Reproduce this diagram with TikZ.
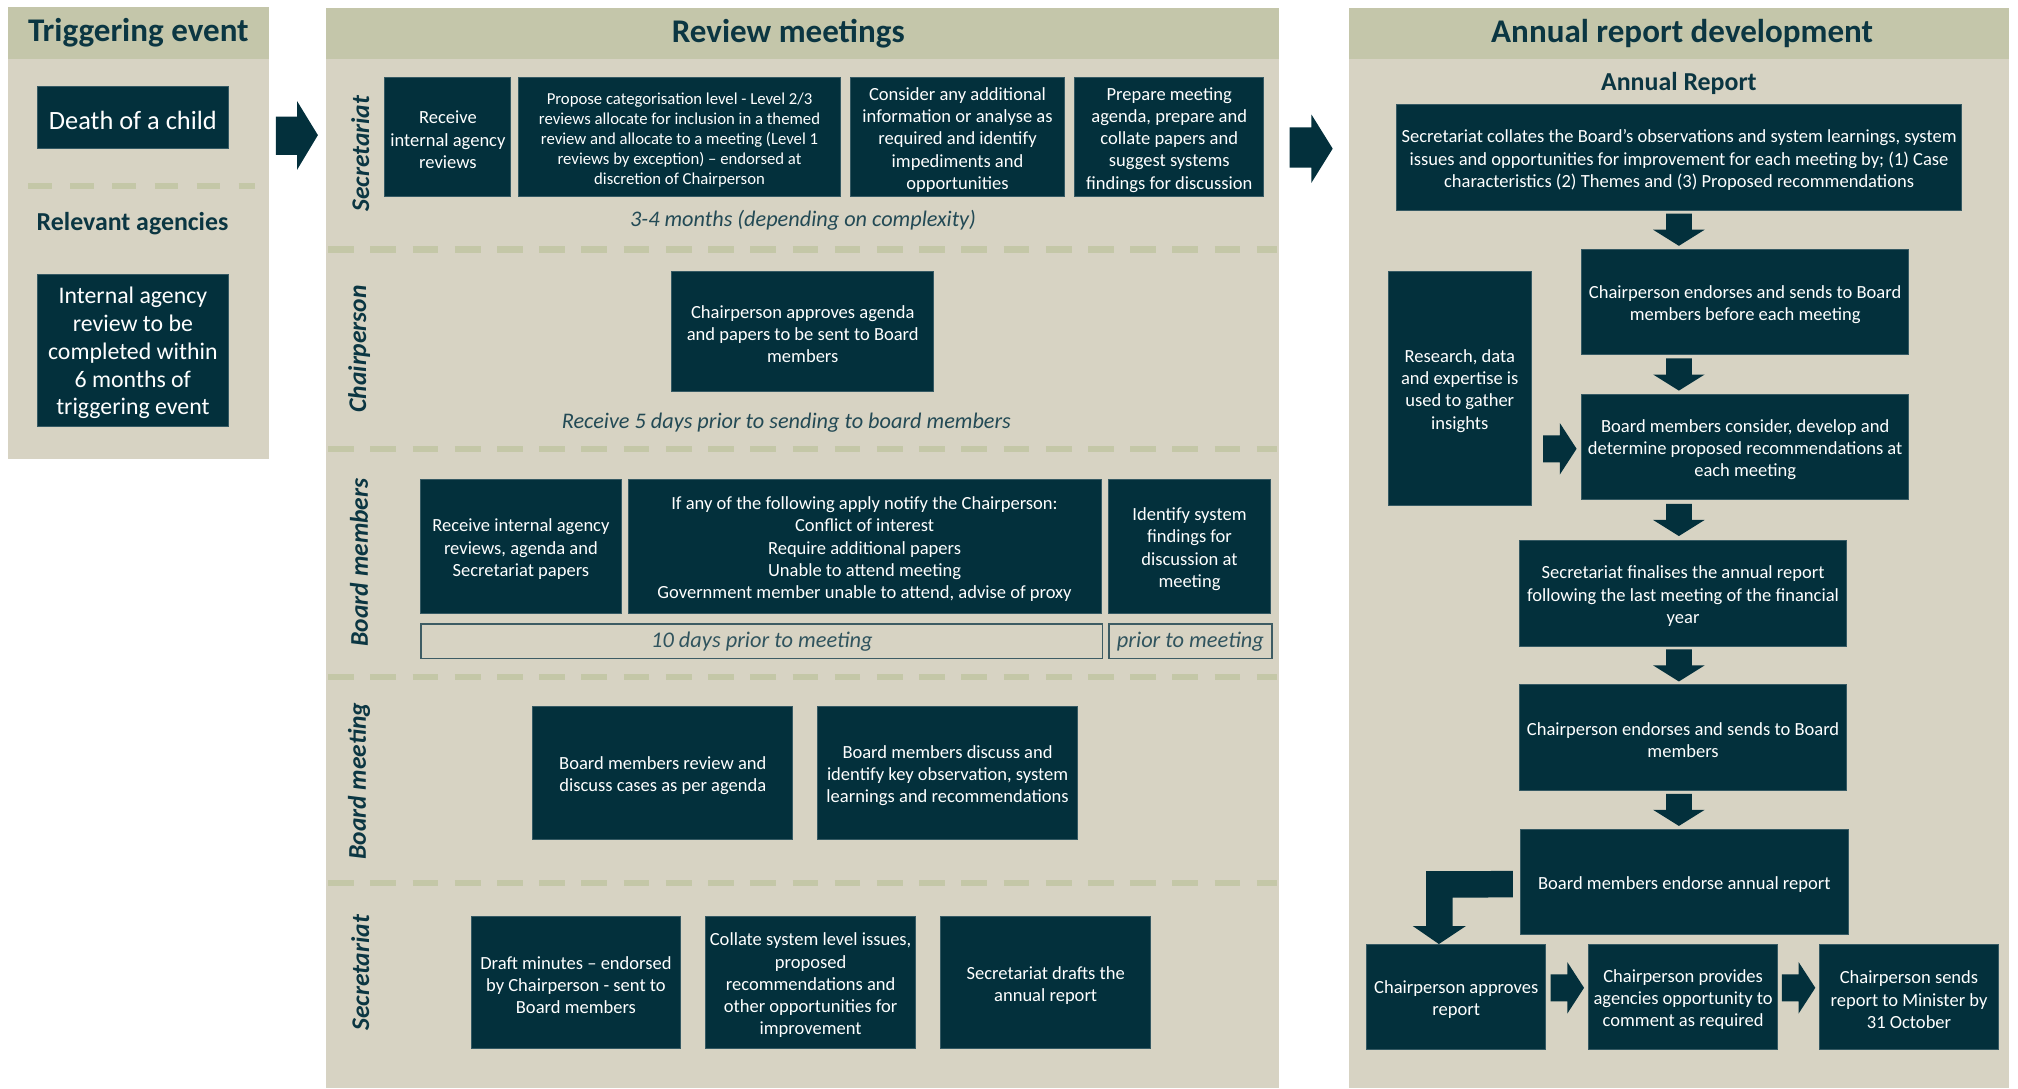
\documentclass[tikz,border=0pt]{standalone}
\usepackage{fontspec}
\setmainfont{Carlito}
\usetikzlibrary{calc}
\definecolor{boxc}{HTML}{03303C}
\definecolor{bodyc}{HTML}{D7D3C3}
\definecolor{headc}{HTML}{C4C6AA}
\definecolor{dashc}{HTML}{C4C7A7}
\definecolor{titc}{HTML}{0B3642}
\definecolor{olc}{HTML}{3D5C64}
\newcommand\fsz[2]{\fontsize{#1pt}{#2pt}\selectfont}
\newcommand\mybox[7]{\node[box, minimum width={(#4)-(#2)}, minimum height={(#5)-(#3)}] (#1) at ({((#2)+(#4))/2},{((#3)+(#5))/2}) {};
  \node[boxtext, font={#6}] (#1t) at ($(#1.center)+(0,2.2)$) {#7};}
\newcommand\mm{\fsz{14.4}{17.3}}
\newcommand\rr{\fsz{14.4}{17.3}}
\tikzset{
  box/.style={fill=boxc, draw=boxc!80!white, line width=0.7pt, inner sep=0pt, outer sep=0pt},
  boxtext/.style={text=white, align=center, inner sep=0pt, outer sep=0pt},
  outl/.style={draw=olc, line width=1.2pt, fill=bodyc, text=titc!85!white, align=center, inner sep=0pt, outer sep=0pt, font=\fsz{17.4}{20}\itshape},
  lane/.style={text=titc, font=\fsz{19.8}{22}\bfseries\itshape, rotate=90},
  timing/.style={text=titc!90!white, font=\fsz{17.3}{20}\itshape},
  title/.style={text=titc, font=\fsz{25.7}{29}\bfseries},
  sub/.style={text=titc, font=\fsz{20.1}{24}\bfseries},
  sep/.style={draw=dashc, line width=5pt, dash pattern=on 20pt off 12.8pt},
  arr/.style={fill=boxc},
}
\begin{document}
\begin{tikzpicture}[x=1pt,y=-1pt]
\useasboundingbox (0,0) rectangle (1568,846);
\fill[white] (0,0) rectangle (1568,846);
% ---------- panels
\fill[bodyc] (6,5.5) rectangle (209,357);
\fill[headc] (6,5.5) rectangle (209,46);
\fill[bodyc] (253,6.5) rectangle (994,845.5);
\fill[headc] (253,6.5) rectangle (994,45.5);
\fill[bodyc] (1048.5,6) rectangle (1561,845.5);
\fill[headc] (1048.5,6) rectangle (1561,46);
\node[title] (t1) at (107.5,25.5) {Triggering event};
\node[title] (t2) at (612.5,26) {Review meetings};
\node[title] (t3) at (1307,26) {Annual report development};
% ---------- left panel
\mybox{death}{29}{67}{177.5}{115.5}{\fsz{20.5}{24}}{Death of a child}
\draw[sep, dash pattern=on 18.2pt off 14.5pt] (22,144.5) -- (198,144.5);
\node[sub] (rel) at (103,173.5) {Relevant agencies};
\mybox{iar}{29}{213}{177.5}{331}{\fsz{18.5}{21.7}}{Internal agency\\review to be\\completed within\\6 months of\\triggering event}
% big arrow 1
\fill[arr] (214.3,90.7) -- (230.8,90.7) -- (230.8,78.5) -- (247,105) -- (230.8,132) -- (230.8,120.4) -- (214.3,120.4) -- cycle;
% ---------- middle panel: separators
\foreach \yy in {194,349,526,686} \draw[sep] (255,\yy) -- (992,\yy);
% lane labels
\node[lane] (l1) at (280,119.5) {Secretariat};
\node[lane] (l2) at (279,271) {Chairperson};
\node[lane] (l3) at (279,437) {Board members};
\node[lane] (l4) at (279,607) {Board meeting};
\node[lane] (l5) at (280,756) {Secretariat};
% secretariat lane
\mybox{sa}{299}{60.5}{397}{152.5}{\mm}{Receive\\internal agency\\reviews}
\mybox{sb}{403}{60.5}{653}{152.5}{\fsz{13}{15.5}}{Propose categorisation level - Level 2/3\\reviews allocate for inclusion in a themed\\review and allocate to a meeting (Level 1\\reviews by exception) – endorsed at\\discretion of Chairperson}
\mybox{sc}{661}{60.5}{827}{152.5}{\mm}{Consider any additional\\information or analyse as\\required and identify\\impediments and\\opportunities}
\mybox{sd}{835}{60.5}{982}{152.5}{\mm}{Prepare meeting\\agenda, prepare and\\collate papers and\\suggest systems\\findings for discussion}
\node[timing] (tm1) at (624,171) {3-4 months (depending on complexity)};
% chairperson lane
\mybox{ca}{522}{211}{725.5}{304}{\mm}{Chairperson approves agenda\\and papers to be sent to Board\\members}
\node[timing] (tm2) at (611,328.5) {Receive 5 days prior to sending to board members};
% board members lane
\mybox{ba}{327}{372.5}{482.5}{476.5}{\mm}{Receive internal agency\\reviews, agenda and\\Secretariat papers}
\mybox{bb}{488}{372.5}{855.5}{476.5}{\mm}{If any of the following apply notify the Chairperson:\\Conflict of interest\\Require additional papers\\Unable to attend meeting\\Government member unable to attend, advise of proxy}
\mybox{bc}{861.5}{372.5}{987}{476.5}{\mm}{Identify system\\findings for\\discussion at\\meeting}
\node[outl, minimum width=529.4, minimum height=26.5] (o1) at (592,498.3) {10 days prior to meeting};
\node[outl, minimum width=126.8, minimum height=26.5] (o2) at (924.9,498.3) {prior to meeting};
% board meeting lane
\mybox{ma}{414}{549}{616}{652}{\mm}{Board members review and\\discuss cases as per agenda}
\mybox{mb}{635}{549}{837.5}{652}{\mm}{Board members discuss and\\identify key observation, system\\learnings and recommendations}
% secretariat lane 2
\mybox{xa}{366}{712.3}{529}{814.5}{\mm}{Draft minutes – endorsed\\by Chairperson - sent to\\Board members}
\mybox{xb}{548.3}{712.3}{711.4}{814.5}{\mm}{Collate system level issues,\\proposed\\recommendations and\\other opportunities for\\improvement}
\mybox{xc}{731}{712.3}{894}{814.5}{\mm}{Secretariat drafts the\\annual report}
% big arrow 2
\fill[arr] (1002,99) -- (1019,99) -- (1019,89) -- (1035.5,115.5) -- (1019,142) -- (1019,130.3) -- (1002,130.3) -- cycle;
% ---------- right panel
\node[sub] (ar) at (1304.5,64.5) {Annual Report};
\mybox{r1}{1085}{81}{1524.3}{163.5}{\rr}{Secretariat collates the Board’s observations and system learnings, system\\issues and opportunities for improvement for each meeting by; (1) Case\\characteristics (2) Themes and (3) Proposed recommendations}
\mybox{r2}{1229}{193.5}{1483}{275.6}{\rr}{Chairperson endorses and sends to Board\\members before each meeting}
\mybox{res}{1078.5}{210.6}{1190}{392.5}{\rr}{Research, data\\and expertise is\\used to gather\\insights}
\mybox{r3}{1229}{306.4}{1483}{388}{\rr}{Board members consider, develop and\\determine proposed recommendations at\\each meeting}
\mybox{r4}{1180.5}{420}{1435}{502}{\rr}{Secretariat finalises the annual report\\following the last meeting of the financial\\year}
\mybox{r5}{1180.5}{532}{1435}{614}{\rr}{Chairperson endorses and sends to Board\\members}
\mybox{r6}{1181.5}{644.5}{1436}{726}{\rr}{Board members endorse annual report}
\mybox{b1}{1062}{733.5}{1201}{815.6}{\rr}{Chairperson approves\\report}
\mybox{b2}{1234.6}{733.5}{1381}{815.6}{\rr}{Chairperson provides\\agencies opportunity to\\comment as required}
\mybox{b3}{1414}{733.5}{1552.6}{815.6}{\rr}{Chairperson sends\\report to Minister by\\31 October}
% down arrows
\coordinate (ax) at (1304.5,0);
\foreach \a/\b [count=\i] in {r1/r2,r2/r3,r3/r4,r4/r5,r5/r6}{
  \coordinate (d\i) at ($(\a.south -| ax)!0.5!(\b.north -| ax)$);
  \fill[arr, shift={(d\i)}] (-10,-12.5) -- (10,-12.5) -- (10,0) -- (20,0) -- (0,12.5) -- (-20,0) -- (-10,0) -- cycle;
}
% right arrows
\coordinate (h1) at ($(res.east |- r3.west)!0.5!(r3.west)+(2.5,1.5)$);
\coordinate (h2) at ($(b1.east)!0.5!(b2.west)+(0,-7)$);
\coordinate (h3) at ($(b2.east)!0.5!(b3.west)+(0,-7)$);
\foreach \h in {h1,h2,h3}
  \fill[arr, shift={(\h)}] (-13,-10.5) -- (0,-10.5) -- (0,-20) -- (13,0) -- (0,20) -- (0,10.5) -- (-13,10.5) -- cycle;
% elbow arrow from r6 to b1
\coordinate (e0) at ($(r6.west)+(-6,-2)$);
\fill[arr] (e0) ++(0,-6.5) -- (1108,676.8) -- (1108,719.5) -- (1097.7,719.5) -- (b1.north -| 1118,0) -- (1139,719.5) -- (1128.7,719.5) -- (1128.7,697.5) -- ($(e0)+(0,14)$) -- cycle;
\end{tikzpicture}
\end{document}
